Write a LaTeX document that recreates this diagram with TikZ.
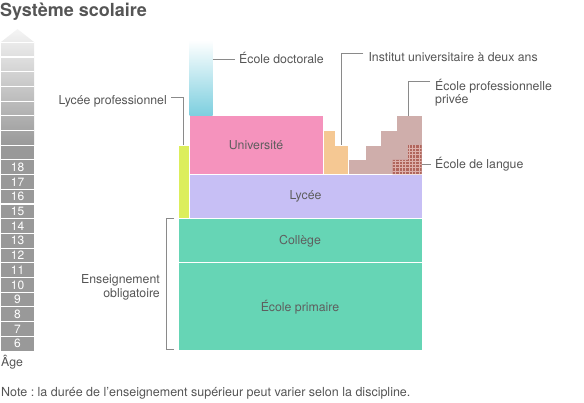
\documentclass[tikz,border=0pt]{standalone}
\usepackage{fontspec}
\setmainfont{TeX Gyre Heros}
\definecolor{cgreen}{HTML}{66D5B5}
\definecolor{clycee}{HTML}{C7BFF5}
\definecolor{cuniv}{HTML}{F593BD}
\definecolor{cyellow}{HTML}{DCEE5C}
\definecolor{corange}{HTML}{F5C893}
\definecolor{cbrown}{HTML}{CFAEAB}
\definecolor{cgrid}{HTML}{B0655C}
\definecolor{cgridline}{HTML}{DDB0AA}
\definecolor{ccyan}{HTML}{7DCFDF}
\definecolor{ctext}{HTML}{555555}
\definecolor{cbtext}{HTML}{5E5E5E}
\definecolor{cleader}{HTML}{8A8A8A}
\definecolor{cage}{HTML}{999999}
\tikzset{
  blockbox/.style={draw=white, line width=1pt},
  lbl/.style={inner sep=0pt, text=ctext, font=\fontsize{12.3}{13.5}\selectfont},
  blbl/.style={inner sep=0pt, text=cbtext, font=\fontsize{12.3}{13.5}\selectfont, anchor=base},
  agelbl/.style={inner sep=0pt, text=white, font=\fontsize{12}{12}\selectfont, anchor=base},
  leader/.style={draw=cleader, line width=1pt},
}
\begin{document}
\frenchspacing
\begin{tikzpicture}[x=1pt, y=-1pt]
\useasboundingbox (0,0) rectangle (584,403);
% title
\node[lbl, anchor=base west, font=\fontsize{18}{20}\bfseries\selectfont] (title) at (0,16.5) {Système scolaire};
% age column
\shade[top color=gray!8, bottom color=cage] (1,145.2) -- (1,42) -- (17.5,29) -- (34,42) -- (34,145.2) -- cycle;
\fill[cage] (1,145.2) rectangle (34,351);
\foreach \k in {1,...,21} {
  \draw[white, line width=1.1pt] (1,{351-\k*14.7}) -- (34,{351-\k*14.7});
}
\foreach \a in {6,...,18} {
  \node[agelbl] (age\a) at (17.5,{351-(\a-6)*14.7-7.35+4.2}) {\a};
}
\node[lbl, anchor=base west] (agetitle) at (1,367) {Âge};
% blocks
\fill[cgreen, blockbox] (178,262.8) rectangle (422,351);
\node[blbl] (primaire) at (300,311.5) {École primaire};
\fill[cgreen, blockbox] (178,218.7) rectangle (422,262.8);
\node[blbl] (college) at (300,245) {Collège};
\fill[clycee, blockbox] (189,174.6) rectangle (422,218.7);
\node[blbl] (lycee) at (305.5,200) {Lycée};
\fill[cyellow, blockbox] (178,145.2) rectangle (189,218.7);
\fill[cuniv, blockbox] (189,115.8) rectangle (323,174.6);
\node[blbl] (univ) at (256,150) {Université};
\shade[top color=white, bottom color=ccyan] (189.5,40) rectangle (212.5,115.3);
\fill[corange, blockbox] (323,174.6) -- (323,130.5) -- (335,130.5) -- (335,145.2) -- (348,145.2) -- (348,174.6) -- cycle;
\fill[cbrown, blockbox] (348.5,174.6) -- (348.5,159.9) -- (365,159.9) -- (365,145.2) -- (380.5,145.2) -- (380.5,130.5) -- (396,130.5) -- (396,115.8) -- (422,115.8) -- (422,174.6) -- cycle;
\begin{scope}
  \clip (392.5,174.1) -- (392.5,159.9) -- (408,159.9) -- (408,145.2) -- (421.5,145.2) -- (421.5,174.1) -- cycle;
  \fill[cgrid] (390,140) rectangle (425,176);
  \foreach \i in {0,...,10} {
    \draw[cgridline, line width=0.7pt] ({392.5+\i*3.3},140) -- ({392.5+\i*3.3},176);
    \draw[cgridline, line width=0.7pt] (390,{174.4-\i*3.3}) -- (425,{174.4-\i*3.3});
  }
\end{scope}
% anchors for leaders
\coordinate (lpA) at (183,145.2);
\coordinate (edA) at (212.5,59.5);
\coordinate (iuA) at (341,145.2);
\coordinate (epA) at (408,115.8);
\coordinate (elA) at (421.5,164.3);
\coordinate (obTop) at (174,219);
\coordinate (obBot) at (174,350);
% labels
\node[lbl, anchor=base east] (lp) at (167,105) {Lycée professionnel};
\draw[leader] (lp.east) ++(4,-4) -| (lpA);
\node[lbl, anchor=base west] (ed) at (239,63.8) {École doctorale};
\draw[leader] (edA) -- ++(22,0);
\node[lbl, anchor=base west] (iu) at (368.3,61.8) {Institut universitaire à deux ans};
\draw[leader] (iu.west) ++(-5,-4.3) -| (iuA);
\node[lbl, anchor=base west] (ep1) at (435,90.2) {École professionnelle};
\node[lbl, anchor=base west] (ep2) at (435,103.7) {privée};
\draw[leader] (ep1.west) ++(-5,-4.5) -| (epA);
\node[lbl, anchor=base west] (el) at (435,168.6) {École de langue};
\draw[leader] (elA) -- ++(9.5,0);
\node[lbl, anchor=base east] (ob1) at (160,283.5) {Enseignement};
\node[lbl, anchor=base east] (ob2) at (160,297.5) {obligatoire};
\draw[leader] (obTop) -- ++(-7.3,0) |- (obBot);
% note
\node[lbl, anchor=base west, font=\fontsize{12.5}{13.5}\selectfont] (note) at (1,396) {Note : la durée de l’enseignement supérieur peut varier selon la discipline.};
\end{tikzpicture}
\end{document}
